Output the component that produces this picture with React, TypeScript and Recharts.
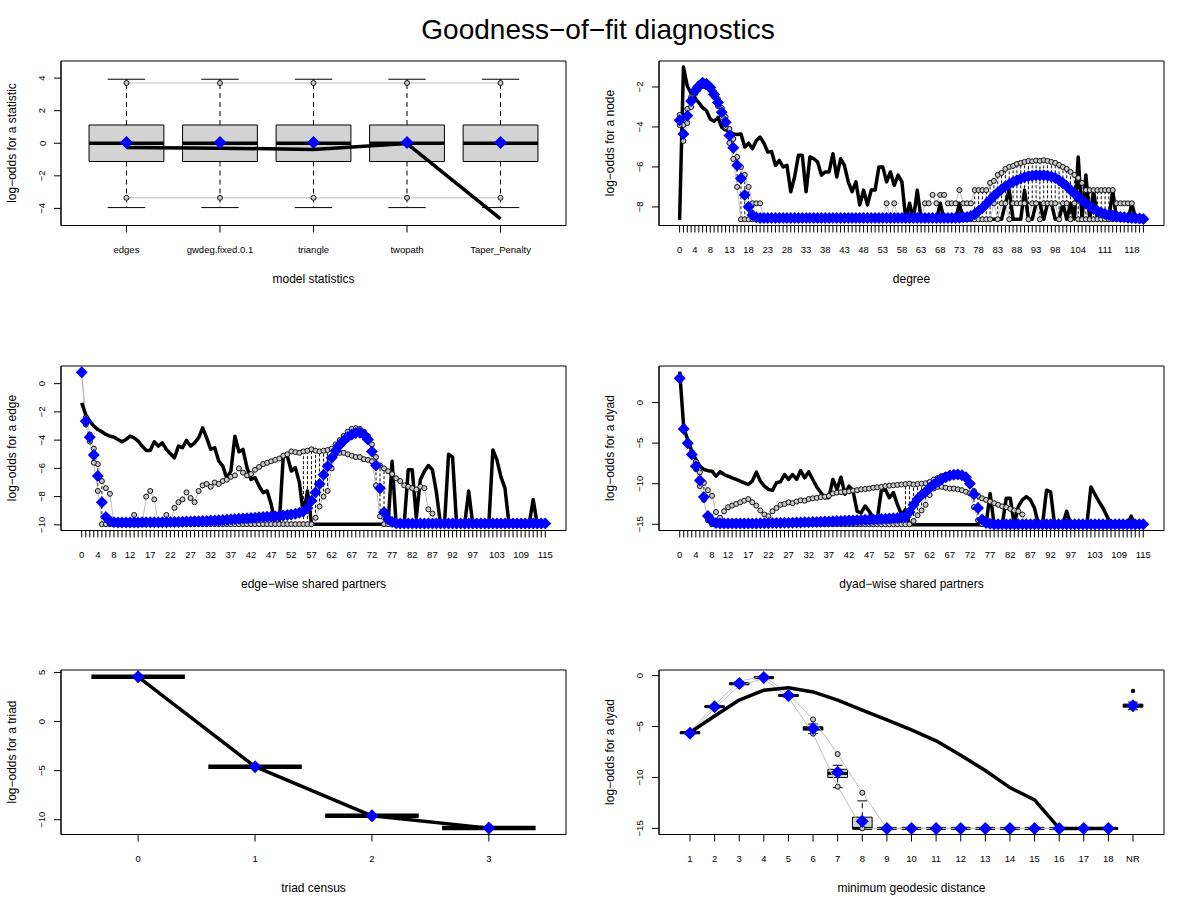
import React from 'react';
import { ComposedChart, Line, XAxis, YAxis, ReferenceArea, ReferenceLine } from 'recharts';

const FONT = '"Liberation Sans", Arial, Helvetica, sans-serif';

// ---------- Panel 1: model statistics ----------
const statNames = ['edges', 'gwdeg.fixed.0.1', 'triangle', 'twopath', 'Taper_Penalty'];
const obs1 = [-0.26, -0.3, -0.38, -0.02, -4.65];
const mean1 = [0.04, 0.04, 0.04, 0.04, 0.04];
const med1 = [0, 0, 0, 0, 0];
const q1s1 = [-1.12, -1.12, -1.12, -1.12, -1.12];
const q3s1 = [1.12, 1.12, 1.12, 1.12, 1.12];
const wlo1 = [-3.95, -3.95, -3.95, -3.95, -3.95];
const whi1 = [3.93, 3.93, 3.93, 3.93, 3.93];
const upper1 = [3.7, 3.7, 3.7, 3.7, 3.7];
const lower1 = [-3.35, -3.35, -3.35, -3.35, -3.35];

// ---------- Panel 2: degree (0..121) ----------
const degLabels = [0, 4, 8, 13, 18, 23, 28, 33, 38, 43, 48, 53, 58, 63, 68, 73, 78, 83, 88, 93, 98, 104, 111, 118];
const obs2 = [
  -8.65, -1.0, -1.95, -2.33, -2.56, -2.78, -3.03, -3.19, -3.6, -3.72,
  -3.52, -4.02, -4.15, -4.22, -4.35, -4.38, -4.35, -5.0, -4.81, -5.09,
  -4.68, -4.51, -4.81, -5.26, -5.23, -5.92, -5.67, -6.0, -5.92, -7.24,
  -6.5, -5.42, -5.42, -7.24, -5.5, -5.59, -5.75, -6.41, -6.25, -6.25,
  -5.34, -6.5, -5.59, -5.92, -6.75, -7.24, -6.75, -7.9, -7.16, -7.9,
  -7.16, -7.16, -6.0, -6.0, -6.75, -6.25, -6.92, -6.41, -6.75, -8.62,
  -7.82, -8.62, -7.16, -8.62, -8.62, -8.62, -8.62, -8.62, -7.82, -8.62,
  -8.62, -8.62, -8.62, -7.82, -8.62, -8.62, -8.62, -8.62, -8.62, -8.62,
  -8.62, -8.62, -8.62, -8.62, -8.62, -7.82, -7.16, -8.62, -8.62, -8.62,
  -7.16, -8.62, -8.62, -7.82, -7.82, -8.62, -7.82, -7.82, -8.62, -8.62,
  -7.82, -8.62, -7.82, -8.62, -5.5, -8.62, -6.4, -8.62, -7.16, -8.62,
  -8.62, -8.62, -8.62, -7.16, -8.62, -8.62, -8.62, -8.62, -7.82, -8.62,
  -8.62, -8.62,
];
const mean2 = [
  -3.66, -4.35, -3.44, -2.7, -2.2, -1.95, -1.79, -1.84, -2.03, -2.37,
  -2.78, -3.27, -3.77, -4.43, -5.04, -5.92, -6.58, -7.4, -7.99, -8.4,
  -8.52, -8.55, -8.56, -8.56, -8.56, -8.56, -8.56, -8.56, -8.56, -8.56,
  -8.56, -8.56, -8.56, -8.56, -8.56, -8.56, -8.56, -8.56, -8.56, -8.56,
  -8.56, -8.56, -8.56, -8.56, -8.56, -8.56, -8.56, -8.56, -8.56, -8.56,
  -8.56, -8.56, -8.56, -8.56, -8.56, -8.56, -8.56, -8.56, -8.56, -8.56,
  -8.56, -8.56, -8.56, -8.56, -8.56, -8.56, -8.56, -8.56, -8.56, -8.56,
  -8.56, -8.56, -8.55, -8.54, -8.52, -8.5, -8.45, -8.35, -8.2, -8.05,
  -7.85, -7.65, -7.45, -7.28, -7.12, -6.98, -6.85, -6.75, -6.66, -6.58,
  -6.52, -6.47, -6.44, -6.42, -6.42, -6.42, -6.44, -6.48, -6.55, -6.66,
  -6.8, -6.97, -7.15, -7.33, -7.5, -7.67, -7.83, -7.97, -8.1, -8.2,
  -8.28, -8.35, -8.4, -8.44, -8.47, -8.5, -8.52, -8.54, -8.56, -8.57,
  -8.58, -8.6,
];
const upper2 = [
  -3.4, -3.9, -3.1, -2.5, -2.05, -1.85, -1.7, -1.75, -1.95, -2.25,
  -2.6, -3.05, -3.5, -4.1, -4.6, -5.5, -6.0, -6.4, -7.0, -7.82,
  -7.82, -7.82, -8.62, -8.62, -8.62, -8.62, -8.62, -8.62, -8.62, -8.62,
  -8.62, -8.62, -8.62, -8.62, -8.62, -8.62, -8.62, -8.62, -8.62, -8.62,
  -8.62, -8.62, -8.62, -8.62, -8.62, -8.62, -8.62, -8.62, -8.62, -8.62,
  -8.62, -8.62, -8.62, -8.62, -7.82, -8.62, -7.82, -8.62, -8.62, -8.62,
  -8.62, -8.62, -8.62, -8.62, -7.82, -7.82, -7.4, -7.82, -7.4, -7.4,
  -7.82, -7.82, -7.82, -7.16, -7.82, -7.82, -7.82, -7.16, -7.16, -7.16,
  -7.16, -6.8, -6.7, -6.4, -6.3, -6.1, -6.0, -5.95, -5.85, -5.8,
  -5.75, -5.7, -5.72, -5.68, -5.7, -5.66, -5.7, -5.75, -5.8, -5.9,
  -6.0, -6.1, -6.25, -6.4, -6.55, -6.8, -7.16, -7.16, -7.16, -7.16,
  -7.16, -7.16, -7.16, -7.16, -7.82, -7.82, -7.82, -7.82, -7.82, -8.62,
  -8.62, -8.62,
];
const lower2 = [
  -3.9, -4.7, -3.8, -3.0, -2.35, -2.1, -1.95, -2.0, -2.15, -2.5,
  -2.95, -3.5, -4.0, -4.8, -5.6, -7.0, -8.62, -8.62, -8.62, -8.62,
  -8.62, -8.62, -8.62, -8.62, -8.62, -8.62, -8.62, -8.62, -8.62, -8.62,
  -8.62, -8.62, -8.62, -8.62, -8.62, -8.62, -8.62, -8.62, -8.62, -8.62,
  -8.62, -8.62, -8.62, -8.62, -8.62, -8.62, -8.62, -8.62, -8.62, -8.62,
  -8.62, -8.62, -8.62, -8.62, -8.62, -8.62, -8.62, -8.62, -8.62, -8.62,
  -8.62, -8.62, -8.62, -8.62, -8.62, -8.62, -8.62, -8.62, -8.62, -8.62,
  -8.62, -8.62, -8.62, -8.62, -8.62, -8.62, -8.62, -8.62, -8.62, -8.62,
  -8.62, -8.62, -7.82, -8.62, -7.82, -7.82, -8.62, -7.82, -7.82, -7.82,
  -7.82, -8.62, -7.82, -7.82, -8.62, -7.82, -7.82, -7.82, -7.82, -8.62,
  -7.82, -7.82, -8.62, -7.82, -8.62, -8.62, -8.62, -8.62, -8.62, -8.62,
  -8.62, -8.62, -8.62, -8.62, -8.62, -8.62, -8.62, -8.62, -8.62, -8.62,
  -8.62, -8.62,
];
// degrees whose simulated boxplots show visible dashed whiskers
const whiskDeg2 = [13, 14, 15, 16, 17, 18, 77, 78, 79, 80, 81, 82, 83, 84, 85, 86, 87, 88, 89, 90, 91, 92, 93, 94, 95, 96, 97, 98, 99, 100, 101, 102, 103, 104, 105, 106, 107, 108, 109, 110, 111, 112];

// ---------- Panels 3 & 4: shared partners (0..115) ----------
const spLabels = [0, 4, 8, 12, 17, 22, 27, 32, 37, 42, 47, 52, 57, 62, 67, 72, 77, 82, 87, 92, 97, 103, 109, 115];
const obs3 = [
  -1.36, -2.19, -2.66, -3.01, -3.25, -3.41, -3.6, -3.72, -3.79, -3.95,
  -4.12, -3.95, -3.72, -3.84, -4.07, -4.42, -4.73, -4.73, -4.12, -4.42,
  -4.19, -4.66, -4.96, -5.25, -4.42, -4.54, -4.02, -4.42, -4.19, -3.84,
  -3.13, -3.84, -4.66, -4.54, -5.48, -5.84, -6.7, -6.2, -3.72, -4.82,
  -4.66, -5.95, -6.78, -6.66, -7.25, -7.72, -7.6, -8.54, -9.95, -9.95,
  -5.13, -5.13, -6.19, -5.95, -7.0, -9.3, -7.6, -9.95, -9.95, -9.95,
  -9.95, -9.95, -9.95, -9.95, -9.95, -9.95, -9.95, -9.95, -9.95, -9.95,
  -9.95, -9.95, -9.95, -9.95, -9.95, -9.95, -9.95, -5.5, -9.95, -9.95,
  -9.95, -6.1, -6.1, -9.5, -6.8, -6.2, -5.8, -6.1, -7.7, -9.95,
  -9.95, -5.0, -5.2, -9.95, -9.95, -9.95, -7.6, -9.95, -9.95, -9.95,
  -9.95, -9.95, -4.7, -5.4, -6.6, -7.4, -9.95, -9.95, -9.95, -9.95,
  -9.95, -9.95, -8.2, -9.95, -9.95, -9.95,
];
const mean3 = [
  0.8, -2.66, -3.8, -5.06, -6.54, -8.4, -9.45, -9.75, -9.82, -9.83,
  -9.83, -9.83, -9.83, -9.83, -9.83, -9.82, -9.82, -9.82, -9.82, -9.82,
  -9.81, -9.81, -9.8, -9.8, -9.79, -9.78, -9.77, -9.76, -9.75, -9.74,
  -9.73, -9.72, -9.7, -9.69, -9.67, -9.65, -9.63, -9.61, -9.59, -9.57,
  -9.55, -9.53, -9.51, -9.49, -9.47, -9.45, -9.43, -9.41, -9.39, -9.37,
  -9.34, -9.31, -9.27, -9.22, -9.15, -9.03, -8.8, -8.3, -7.7, -7.1,
  -6.45, -5.85, -5.25, -4.75, -4.35, -4.02, -3.78, -3.6, -3.5, -3.48,
  -3.6, -3.95, -4.8, -5.8, -7.4, -9.1, -9.6, -9.8, -9.88, -9.9,
  -9.9, -9.9, -9.9, -9.9, -9.9, -9.9, -9.9, -9.9, -9.9, -9.9,
  -9.9, -9.9, -9.9, -9.9, -9.9, -9.9, -9.9, -9.9, -9.9, -9.9,
  -9.9, -9.9, -9.9, -9.9, -9.9, -9.9, -9.9, -9.9, -9.9, -9.9,
  -9.9, -9.9, -9.9, -9.9, -9.9, -9.9,
];
const upper3 = [
  0.8, -2.4, -3.6, -4.6, -5.7, -6.9, -7.4, -7.8, -9.95, -9.95,
  -9.95, -9.95, -9.95, -9.3, -9.95, -9.95, -8.0, -7.6, -8.2, -9.95,
  -9.95, -9.3, -9.95, -8.8, -8.4, -8.2, -7.7, -8.1, -8.4, -7.6,
  -7.2, -7.1, -7.3, -7.0, -7.1, -6.9, -6.8, -6.6, -6.5, -6.0,
  -6.3, -6.5, -6.4, -6.1, -5.9, -5.7, -5.6, -5.5, -5.4, -5.3,
  -5.1, -5.0, -4.8, -4.85, -4.9, -4.8, -4.75, -4.65, -4.75, -4.8,
  -4.75, -4.7, -4.6, -4.3, -4.0, -3.7, -3.4, -3.2, -3.15, -3.2,
  -3.4, -3.7, -4.3, -5.2, -5.8, -6.0, -6.2, -6.4, -6.7, -6.9,
  -7.2, -7.3, -7.4, -7.5, -7.3, -7.4, -8.9, -9.2, -9.95, -9.95,
  -9.95, -9.95, -9.95, -9.95, -9.95, -9.95, -9.95, -9.95, -9.95, -9.95,
  -9.95, -9.95, -9.95, -9.95, -9.95, -9.95, -9.95, -9.95, -9.95, -9.95,
  -9.95, -9.95, -9.95, -9.95, -9.95, -9.95,
];
const lower3 = [
  0.7, -2.9, -4.1, -5.6, -7.6, -9.95, -9.95, -9.95, -9.95, -9.95,
  -9.95, -9.95, -9.95, -9.95, -9.95, -9.95, -9.95, -9.95, -9.95, -9.95,
  -9.95, -9.95, -9.95, -9.95, -9.95, -9.95, -9.95, -9.95, -9.95, -9.95,
  -9.95, -9.95, -9.95, -9.95, -9.95, -9.95, -9.95, -9.95, -9.95, -9.95,
  -9.95, -9.95, -9.95, -9.95, -9.95, -9.95, -9.95, -9.95, -9.95, -9.95,
  -9.95, -9.95, -9.95, -9.95, -9.95, -9.95, -9.95, -9.95, -9.5, -8.7,
  -8.0, -7.6, -6.0, -5.0, -4.9, -4.9, -5.0, -5.1, -5.2, -5.2,
  -5.35, -5.4, -5.5, -7.2, -9.4, -9.95, -9.95, -9.95, -9.95, -9.95,
  -9.95, -9.95, -9.95, -9.95, -9.95, -9.95, -9.95, -9.95, -9.95, -9.95,
  -9.95, -9.95, -9.95, -9.95, -9.95, -9.95, -9.95, -9.95, -9.95, -9.95,
  -9.95, -9.95, -9.95, -9.95, -9.95, -9.95, -9.95, -9.95, -9.95, -9.95,
  -9.95, -9.95, -9.95, -9.95, -9.95, -9.95,
];
const whiskSp3 = [4, 5, 55, 56, 57, 58, 59, 60, 61, 62, 72, 73, 74, 75];
const obs4 = [
  3.8, -3.15, -4.6, -6.0, -7.0, -7.85, -8.25, -8.4, -8.46, -9.07,
  -8.54, -8.87, -9.07, -9.28, -9.48, -9.69, -9.89, -10.1, -9.69, -8.58,
  -9.69, -10.3, -10.7, -10.83, -9.89, -9.77, -8.87, -9.48, -8.87, -9.48,
  -8.38, -9.28, -8.54, -9.48, -10.4, -11.1, -11.73, -11.73, -9.48, -10.7,
  -9.2, -11.3, -10.3, -10.9, -13.4, -13.6, -12.75, -13.4, -14.2, -14.4,
  -10.9, -10.7, -11.73, -11.1, -12.55, -13.8, -13.2, -15.05, -15.05, -15.05,
  -15.05, -15.05, -15.05, -15.05, -15.05, -15.05, -15.05, -15.05, -15.05, -15.05,
  -15.05, -15.05, -15.05, -15.05, -15.05, -15.05, -15.05, -11.2, -15.05, -15.05,
  -15.05, -11.8, -11.8, -15.05, -12.8, -12.0, -11.6, -12.0, -13.0, -15.05,
  -15.05, -10.8, -11.0, -15.05, -15.05, -15.05, -13.4, -15.05, -15.05, -15.05,
  -15.05, -15.05, -10.4, -11.3, -12.2, -13.0, -14.0, -15.05, -15.05, -15.05,
  -15.05, -15.05, -14.0, -15.05, -15.05, -15.05,
];
const mean4 = [
  2.98, -3.27, -5.03, -6.42, -7.85, -9.6, -11.65, -13.98, -14.6, -14.85,
  -14.9, -14.9, -14.9, -14.9, -14.9, -14.9, -14.9, -14.9, -14.9, -14.9,
  -14.88, -14.88, -14.87, -14.86, -14.85, -14.84, -14.83, -14.82, -14.8, -14.79,
  -14.78, -14.76, -14.75, -14.73, -14.71, -14.69, -14.67, -14.65, -14.63, -14.61,
  -14.59, -14.57, -14.55, -14.53, -14.5, -14.48, -14.46, -14.43, -14.4, -14.37,
  -14.34, -14.31, -14.28, -14.25, -14.22, -14.18, -14.1, -13.5, -12.6, -11.9,
  -11.4, -11.0, -10.5, -10.1, -9.75, -9.45, -9.2, -9.0, -8.9, -8.88,
  -8.95, -9.2, -10.0, -11.3, -13.0, -14.4, -14.85, -14.95, -15.0, -15.0,
  -15.0, -15.0, -15.0, -15.0, -15.0, -15.0, -15.0, -15.0, -15.0, -15.0,
  -15.0, -15.0, -15.0, -15.0, -15.0, -15.0, -15.0, -15.0, -15.0, -15.0,
  -15.0, -15.0, -15.0, -15.0, -15.0, -15.0, -15.0, -15.0, -15.0, -15.0,
  -15.0, -15.0, -15.0, -15.0, -15.0, -15.0,
];
const upper4 = [
  3.0, -3.0, -4.8, -6.1, -7.3, -8.6, -9.9, -10.8, -11.5, -13.5,
  -14.2, -13.4, -12.9, -12.7, -12.5, -12.3, -12.1, -11.9, -12.3, -12.7,
  -13.3, -13.8, -14.0, -13.4, -13.0, -12.6, -12.5, -12.3, -12.4, -12.2,
  -12.05, -12.1, -11.9, -11.8, -11.75, -11.65, -11.6, -11.5, -11.2, -11.1,
  -11.05, -11.0, -10.95, -10.85, -10.8, -10.7, -10.65, -10.6, -10.5, -10.45,
  -10.4, -10.3, -10.25, -10.2, -10.15, -10.1, -10.05, -10.0, -10.1, -10.05,
  -10.0, -9.95, -9.8, -9.5, -9.3, -9.05, -8.9, -8.8, -8.75, -8.8,
  -9.0, -9.4, -10.0, -10.9, -11.5, -11.8, -12.0, -12.2, -12.4, -12.6,
  -12.8, -12.9, -13.1, -13.3, -13.4, -13.8, -15.0, -15.0, -15.0, -15.0,
  -15.0, -15.0, -15.0, -15.0, -15.0, -15.0, -15.0, -15.0, -15.0, -15.0,
  -15.0, -15.0, -15.0, -15.0, -15.0, -15.0, -15.0, -15.0, -15.0, -15.0,
  -15.0, -15.0, -15.0, -15.0, -15.0, -15.0,
];
const lower4 = [
  2.9, -3.4, -5.2, -6.6, -8.2, -10.3, -12.0, -14.5, -15.0, -15.0,
  -15.0, -15.0, -15.0, -15.0, -15.0, -15.0, -15.0, -15.0, -15.0, -15.0,
  -15.0, -15.0, -15.0, -15.0, -15.0, -15.0, -15.0, -15.0, -15.0, -15.0,
  -15.0, -15.0, -15.0, -15.0, -15.0, -15.0, -15.0, -15.0, -15.0, -15.0,
  -15.0, -15.0, -15.0, -15.0, -15.0, -15.0, -15.0, -15.0, -15.0, -15.0,
  -15.0, -15.0, -15.0, -15.0, -15.0, -15.0, -15.0, -15.0, -14.6, -13.9,
  -13.3, -12.6, -11.4, -10.6, -10.4, -10.4, -10.5, -10.6, -10.6, -10.7,
  -10.8, -11.0, -11.2, -12.9, -14.5, -15.0, -15.0, -15.0, -15.0, -15.0,
  -15.0, -15.0, -15.0, -15.0, -15.0, -15.0, -15.0, -15.0, -15.0, -15.0,
  -15.0, -15.0, -15.0, -15.0, -15.0, -15.0, -15.0, -15.0, -15.0, -15.0,
  -15.0, -15.0, -15.0, -15.0, -15.0, -15.0, -15.0, -15.0, -15.0, -15.0,
  -15.0, -15.0, -15.0, -15.0, -15.0, -15.0,
];
const whiskSp4 = [5, 6, 56, 57, 58, 59, 60, 61, 62, 73, 74];

// ---------- Panel 5: triad census ----------
const triadLabels = ['0', '1', '2', '3'];
const obs5 = [4.55, -4.6, -9.6, -10.85];
const mean5 = [4.55, -4.6, -9.6, -10.85];
const med5 = [4.55, -4.6, -9.6, -10.85];

// ---------- Panel 6: minimum geodesic distance ----------
const geoLabels = ['1', '2', '3', '4', '5', '6', '7', '8', '9', '10', '11', '12', '13', '14', '15', '16', '17', '18', 'NR'];
const obs6 = [-5.58, -3.96, -2.4, -1.43, -1.2, -1.6, -2.4, -3.38, -4.35, -5.32, -6.4, -7.82, -9.32, -11.0, -12.2, -15.0, -15.0, -15.0, null];
const mean6 = [-5.65, -3.05, -0.78, -0.19, -1.95, -5.19, -9.48, -14.3, -15.0, -15.0, -15.0, -15.0, -15.0, -15.0, -15.0, -15.0, -15.0, -15.0, -2.95];
const upper6 = [-5.5, -2.9, -0.55, -0.05, -1.8, -4.3, -7.7, -11.5, -15.0, -15.0, -15.0, -15.0, -15.0, -15.0, -15.0, -15.0, -15.0, -15.0, null];
const lower6 = [-5.75, -3.2, -1.0, -0.3, -2.15, -5.7, -10.9, -15.0, -15.0, -15.0, -15.0, -15.0, -15.0, -15.0, -15.0, -15.0, -15.0, -15.0, null];
const med6 = [-5.6, -3.05, -0.8, -0.2, -1.95, -5.2, -9.6, -15.0, -15.0, -15.0, -15.0, -15.0, -15.0, -15.0, -15.0, -15.0, -15.0, -15.0, -2.95];
const q1s6 = [-5.7, -3.12, -0.88, -0.27, -2.03, -5.35, -10.0, -15.0, -15.0, -15.0, -15.0, -15.0, -15.0, -15.0, -15.0, -15.0, -15.0, -15.0, -3.1];
const q3s6 = [-5.52, -2.98, -0.72, -0.12, -1.87, -5.02, -9.2, -13.9, -15.0, -15.0, -15.0, -15.0, -15.0, -15.0, -15.0, -15.0, -15.0, -15.0, -2.8];
const wlo6 = [-5.75, -3.2, -1.0, -0.3, -2.15, -5.7, -11.0, -15.0, -15.0, -15.0, -15.0, -15.0, -15.0, -15.0, -15.0, -15.0, -15.0, -15.0, -3.35];
const whi6 = [-5.5, -2.9, -0.6, -0.05, -1.8, -4.75, -8.8, -12.3, -15.0, -15.0, -15.0, -15.0, -15.0, -15.0, -15.0, -15.0, -15.0, -15.0, -2.6];
const out6 = [null, null, null, null, null, null, null, null, null, null, null, null, null, null, null, null, null, null, -1.5];

// ---------- helpers ----------
const fmt = (v: number) => (v < 0 ? '\u2212' + Math.abs(v) : String(v));

const diamond = (s: number) => (p: any) => {
  const { cx, cy, index } = p;
  if (cx == null || cy == null || Number.isNaN(cy)) return <g key={`dm${index}`} />;
  return (
    <polygon key={`dm${index}`} points={`${cx},${cy - s} ${cx + s},${cy} ${cx},${cy + s} ${cx - s},${cy}`} fill="#0000ff" />
  );
};
const ring = (p: any) => {
  const { cx, cy, index } = p;
  if (cx == null || cy == null || Number.isNaN(cy)) return <g key={`rg${index}`} />;
  return <circle key={`rg${index}`} cx={cx} cy={cy} r={2.5} fill="#c8c8c8" stroke="#111" strokeWidth={1} />;
};
const blackDot = (p: any) => {
  const { cx, cy, index } = p;
  if (cx == null || cy == null || Number.isNaN(cy)) return <g key={`bd${index}`} />;
  return <circle key={`bd${index}`} cx={cx} cy={cy} r={2.2} fill="#000" />;
};

const YTick = (p: any) => {
  const { x, y, payload } = p;
  return (
    <text x={x} y={y} transform={`rotate(-90 ${x} ${y})`} textAnchor="middle" fontSize={9.5} fontFamily={FONT} fill="#000">
      {fmt(payload.value)}
    </text>
  );
};
const makeXTick = (labelFor: (v: number) => string) => (p: any) => {
  const { x, y, payload } = p;
  const s = labelFor(payload.value);
  if (!s) return <g />;
  return (
    <text x={x} y={y} dy="0.71em" textAnchor="middle" fontSize={9.5} fontFamily={FONT} fill="#000">
      {s}
    </text>
  );
};

function boxes(prefix: string, q1: number[], q3: number[], med: number[], wlo: number[], whi: number[], medW: number) {
  const els: React.ReactElement[] = [];
  med.forEach((m, i) => {
    const x = i + 1;
    if (whi[i] > q3[i]) {
      els.push(<ReferenceLine key={`${prefix}wu${i}`} segment={[{ x, y: q3[i] }, { x, y: whi[i] }]} stroke="#000" strokeDasharray="5 4" />);
      els.push(<ReferenceLine key={`${prefix}cu${i}`} segment={[{ x: x - 0.2, y: whi[i] }, { x: x + 0.2, y: whi[i] }]} stroke="#000" />);
    }
    if (wlo[i] < q1[i]) {
      els.push(<ReferenceLine key={`${prefix}wl${i}`} segment={[{ x, y: q1[i] }, { x, y: wlo[i] }]} stroke="#000" strokeDasharray="5 4" />);
      els.push(<ReferenceLine key={`${prefix}cl${i}`} segment={[{ x: x - 0.2, y: wlo[i] }, { x: x + 0.2, y: wlo[i] }]} stroke="#000" />);
    }
    if (q3[i] > q1[i]) {
      els.push(<ReferenceArea key={`${prefix}bx${i}`} x1={x - 0.4} x2={x + 0.4} y1={q1[i]} y2={q3[i]} fill="#d3d3d3" fillOpacity={1} stroke="#000" strokeWidth={1} />);
    }
    els.push(<ReferenceLine key={`${prefix}md${i}`} segment={[{ x: x - 0.4, y: m }, { x: x + 0.4, y: m }]} stroke="#000" strokeWidth={medW} />);
  });
  return els;
}

// dashed whiskers of the small per-value boxplots (between the simulated lower and upper values)
function whiskers(prefix: string, idx: number[], lo: number[], up: number[]) {
  return idx.map((x) => (
    <ReferenceLine key={`${prefix}${x}`} segment={[{ x, y: lo[x] }, { x, y: up[x] }]} stroke="#111" strokeWidth={1} strokeDasharray="3 2" />
  ));
}

// ---------- layout ----------
const COLS = [61, 659];
const ROWS = [61, 366, 670];
const PW = 505;
const PH = 164.5;

type PanelProps = {
  left: number;
  top: number;
  data: any[];
  xDomain: [number, number];
  xTicks: number[];
  xLabel: (v: number) => string;
  yDomain: [number, number];
  yTicks: number[];
  xTitle: string;
  yTitle: string;
  extras?: React.ReactElement[];
  gray?: boolean;
  ds?: number;
  hasOut?: boolean;
};

function Panel(p: PanelProps) {
  const ML = 60, MT = 10, MR = 10, MB = 60;
  const ds = p.ds ?? 6;
  return (
    <>
      <div style={{ position: 'absolute', left: p.left - ML, top: p.top - MT }}>
        <ComposedChart width={PW + ML + MR} height={PH + MT + MB} data={p.data} margin={{ top: MT, right: MR, left: 0, bottom: 0 }}>
          <XAxis
            type="number"
            dataKey="x"
            domain={p.xDomain}
            ticks={p.xTicks}
            interval={0}
            allowDataOverflow
            stroke="#000"
            tickSize={7}
            tickMargin={13.5}
            height={MB}
            tick={makeXTick(p.xLabel)}
          />
          <YAxis
            type="number"
            domain={p.yDomain}
            ticks={p.yTicks}
            interval={0}
            allowDataOverflow
            stroke="#000"
            tickSize={7}
            tickMargin={8.5}
            width={ML}
            tick={YTick}
          />
          <ReferenceArea x1={p.xDomain[0]} x2={p.xDomain[1]} y1={p.yDomain[0]} y2={p.yDomain[1]} fill="none" stroke="#000" strokeWidth={1} />
          {p.extras}
          {p.gray !== false && (
            <Line dataKey="up" stroke="#bebebe" strokeWidth={1} dot={ring} isAnimationActive={false} connectNulls={false} />
          )}
          {p.gray !== false && (
            <Line dataKey="lo" stroke="#bebebe" strokeWidth={1} dot={ring} isAnimationActive={false} connectNulls={false} />
          )}
          <Line dataKey="obs" stroke="#000" strokeWidth={3.5} dot={false} isAnimationActive={false} connectNulls={false} strokeLinejoin="round" />
          <Line dataKey="mean" stroke="none" dot={diamond(ds)} isAnimationActive={false} />
          {p.hasOut && <Line dataKey="out" stroke="none" dot={blackDot} isAnimationActive={false} />}
        </ComposedChart>
      </div>
      <div
        style={{
          position: 'absolute',
          left: p.left + PW / 2,
          top: p.top + PH + 53.5,
          transform: 'translate(-50%, -50%)',
          fontSize: 12,
          lineHeight: '12px',
          whiteSpace: 'nowrap',
          fontFamily: FONT,
        }}
      >
        {p.xTitle}
      </div>
      <div
        style={{
          position: 'absolute',
          left: p.left - 49,
          top: p.top + PH / 2,
          transform: 'translate(-50%, -50%) rotate(-90deg)',
          fontSize: 12,
          lineHeight: '12px',
          whiteSpace: 'nowrap',
          fontFamily: FONT,
        }}
      >
        {p.yTitle}
      </div>
    </>
  );
}

const data1 = statNames.map((_, i) => ({ x: i + 1, obs: obs1[i], mean: mean1[i], up: upper1[i], lo: lower1[i] }));
const data2 = obs2.map((v, i) => ({ x: i, obs: v, mean: mean2[i], up: upper2[i], lo: lower2[i] }));
const data3 = obs3.map((v, i) => ({ x: i, obs: v, mean: mean3[i], up: upper3[i], lo: lower3[i] }));
const data4 = obs4.map((v, i) => ({ x: i, obs: v, mean: mean4[i], up: upper4[i], lo: lower4[i] }));
const data5 = triadLabels.map((_, i) => ({ x: i + 1, obs: obs5[i], mean: mean5[i] }));
const data6 = geoLabels.map((_, i) => ({ x: i + 1, obs: obs6[i], mean: mean6[i], up: upper6[i], lo: lower6[i], out: out6[i] }));

const ticks2 = obs2.map((_, i) => i);
const ticks3 = obs3.map((_, i) => i);
const spDomain = (n: number): [number, number] => [-0.5 - 0.04 * n, n - 0.5 + 0.04 * n];
const posDomain = (n: number): [number, number] => [0.5 - 0.04 * n, n + 0.5 + 0.04 * n];

export default function App() {
  return (
    <div style={{ position: 'absolute', left: 0, top: 0, width: 1196, height: 911, background: '#fff', fontFamily: FONT, color: '#000' }}>
      <div
        style={{
          position: 'absolute',
          left: 598,
          top: 30,
          transform: 'translate(-50%, -50%)',
          fontSize: 28,
          lineHeight: '28px',
          whiteSpace: 'nowrap',
          fontFamily: FONT,
        }}
      >
        Goodness−of−fit diagnostics
      </div>

      <Panel
        left={COLS[0]}
        top={ROWS[0]}
        data={data1}
        xDomain={posDomain(statNames.length)}
        xTicks={statNames.map((_, i) => i + 1)}
        xLabel={(v) => statNames[v - 1] ?? ''}
        yDomain={[-5.05, 5.05]}
        yTicks={[-4, -2, 0, 2, 4]}
        xTitle="model statistics"
        yTitle="log−odds for a statistic"
        extras={boxes('b1', q1s1, q3s1, med1, wlo1, whi1, 3.5)}
        ds={6.5}
      />
      <Panel
        left={COLS[1]}
        top={ROWS[0]}
        data={data2}
        xDomain={spDomain(obs2.length)}
        xTicks={ticks2}
        xLabel={(v) => (degLabels.includes(v) ? String(v) : '')}
        yDomain={[-8.93, -0.7]}
        yTicks={[-8, -6, -4, -2]}
        xTitle="degree"
        yTitle="log−odds for a node"
        extras={whiskers('w2', whiskDeg2, lower2, upper2)}
      />
      <Panel
        left={COLS[0]}
        top={ROWS[1]}
        data={data3}
        xDomain={spDomain(obs3.length)}
        xTicks={ticks3}
        xLabel={(v) => (spLabels.includes(v) ? String(v) : '')}
        yDomain={[-10.4, 1.25]}
        yTicks={[-10, -8, -6, -4, -2, 0]}
        xTitle="edge−wise shared partners"
        yTitle="log−odds for a edge"
        extras={whiskers('w3', whiskSp3, lower3, upper3)}
      />
      <Panel
        left={COLS[1]}
        top={ROWS[1]}
        data={data4}
        xDomain={spDomain(obs4.length)}
        xTicks={ticks3}
        xLabel={(v) => (spLabels.includes(v) ? String(v) : '')}
        yDomain={[-15.77, 4.5]}
        yTicks={[-15, -10, -5, 0]}
        xTitle="dyad−wise shared partners"
        yTitle="log−odds for a dyad"
        extras={whiskers('w4', whiskSp4, lower4, upper4)}
      />
      <Panel
        left={COLS[0]}
        top={ROWS[2]}
        data={data5}
        xDomain={posDomain(triadLabels.length)}
        xTicks={triadLabels.map((_, i) => i + 1)}
        xLabel={(v) => triadLabels[v - 1] ?? ''}
        yDomain={[-11.5, 5.25]}
        yTicks={[-10, -5, 0, 5]}
        xTitle="triad census"
        yTitle="log−odds for a triad"
        extras={boxes('b5', med5, med5, med5, med5, med5, 4.5)}
        gray={false}
        ds={6.5}
      />
      <Panel
        left={COLS[1]}
        top={ROWS[2]}
        data={data6}
        xDomain={posDomain(geoLabels.length)}
        xTicks={geoLabels.map((_, i) => i + 1)}
        xLabel={(v) => geoLabels[v - 1] ?? ''}
        yDomain={[-15.6, 0.55]}
        yTicks={[-15, -10, -5, 0]}
        xTitle="minimum geodesic distance"
        yTitle="log−odds for a dyad"
        extras={boxes('b6', q1s6, q3s6, med6, wlo6, whi6, 3)}
        ds={6.5}
        hasOut
      />
    </div>
  );
}
